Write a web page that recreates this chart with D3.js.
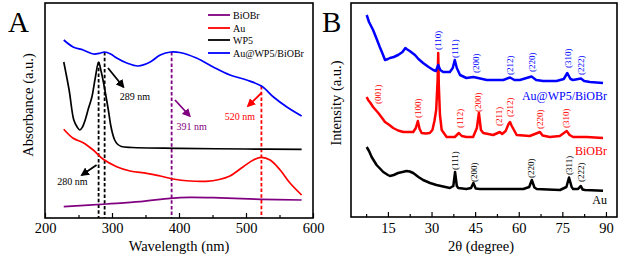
<!DOCTYPE html>
<html lang="en">
<head>
<meta charset="utf-8">
<title>UV-vis and XRD</title>
<script src="https://cdn.jsdelivr.net/npm/d3@7/dist/d3.min.js"></script>
<style>
    body { margin: 0; background: #fff; }
    svg text { font-family: "Liberation Serif", "Times New Roman", serif; fill: #000; }
    .frame { fill: none; stroke: #000; stroke-width: 1.6; }
    .axis path { display: none; }
    .axis line { stroke: #000; stroke-width: 1.2; }
    .axis text { font-family: "Liberation Serif", serif; font-size: 14.5px; }
    .curve { fill: none; }
</style>
</head>
<body>
<svg id="chart" width="621" height="257"></svg>
<script>
// ---- panel A : UV-vis absorbance ----
let compWl  = [228, 242, 257, 272, 283, 289, 298, 307, 322, 339, 357, 372, 388, 401, 426, 451, 476, 501, 523, 541, 561, 583];
let compAbs = [1.78, 1.71, 1.68, 1.64, 1.65, 1.66, 1.64, 1.60, 1.55, 1.52, 1.56, 1.63, 1.66, 1.655, 1.60, 1.51, 1.43, 1.38, 1.32, 1.21, 1.11, 1.02];

let wp5Wl  = [228, 236, 243, 248, 252, 256, 260, 265, 270, 275, 280, 284, 288, 292, 295, 298, 301, 304, 308, 314, 330, 400, 500, 583];
let wp5Abs = [1.56, 1.28, 0.98, 0.91, 0.88, 0.91, 0.98, 1.10, 1.21, 1.40, 1.56, 1.46, 1.33, 1.18, 1.06, 0.93, 0.84, 0.78, 0.74, 0.715, 0.705, 0.697, 0.69, 0.687];

let auWl  = [228, 242, 257, 272, 287, 307, 327, 352, 372, 391, 416, 440, 460, 476, 496, 511, 523, 536, 551, 566, 583];
let auAbs = [0.887, 0.797, 0.753, 0.68, 0.587, 0.513, 0.47, 0.447, 0.42, 0.39, 0.37, 0.367, 0.385, 0.42, 0.513, 0.58, 0.607, 0.58, 0.48, 0.347, 0.23];

let biobrWl  = [228, 292, 342, 387, 416, 451, 523, 583];
let biobrAbs = [0.113, 0.14, 0.163, 0.197, 0.207, 0.203, 0.187, 0.18];

let waveTicks = [200, 300, 400, 500, 600];
let legendNames = ["BiOBr", "Au", "WP5", "Au@WP5/BiOBr"];
let legendColors = ["#800080", "#ff0000", "#000000", "#0000ff"];

// dashed markers (wavelength, top absorbance)
let dashMarks = [
    {wl: 280, top: 1.56, color: "#000000"},
    {wl: 289, top: 1.66, color: "#000000"},
    {wl: 389, top: 1.66, color: "#800080"},
    {wl: 523, top: 1.32, color: "#ff0000"}
];
// arrows with labels (wavelength, absorbance)
let arrowNotes = [
    {label: "289 nm", color: "#000000", from: [294, 1.50], to: [317, 1.31], at: [334, 1.18]},
    {label: "391 nm", color: "#800080", from: [394, 1.18], to: [416, 1.02], at: [419, 0.88]},
    {label: "520 nm", color: "#ff0000", from: [523, 1.25], to: [503, 1.12], at: [491, 0.98]},
    {label: "280 nm", color: "#000000", from: [277, 0.53], to: [255, 0.43], at: [241, 0.33]}
];

// ---- panel B : XRD ----
let compTheta = [7.7, 8.5, 9.9, 11, 12.2, 13.2, 14, 15, 15.7, 17, 18.5, 20, 21, 21.4, 22.5, 24.3, 25.5, 27.1, 29, 30.6, 31.5, 32.3, 33, 34, 36.3, 37.3, 38, 38.7, 39.8, 42, 44.4, 46, 49, 54.7, 57, 58.5, 60.4, 64.4, 66, 68.4, 73, 75.5, 76.7, 77.8, 78.7, 81.4, 82.5, 84.5, 89];
let compInt   = [202, 195, 187, 179, 170, 163, 157, 158, 159, 160, 162, 165, 169, 168, 166, 162, 158, 154, 150, 147, 146, 152, 147, 145, 145, 149, 157, 149, 142, 139, 140, 139, 137, 137, 139.5, 137, 137, 140.5, 137, 136, 136, 138, 144, 138, 137, 138.5, 136, 135, 134];

let biobrTheta = [7.7, 8.2, 9, 9.9, 11.7, 13, 14, 15.5, 16.8, 18.5, 20.3, 22, 23.7, 24.6, 25.3, 25.9, 26.6, 28, 29.4, 30.3, 31, 31.6, 32.1, 32.3, 32.5, 32.9, 33.5, 35.2, 38, 39.4, 40.4, 42, 44.3, 45.6, 46.3, 47, 47.8, 51.2, 53.5, 54.3, 55.5, 56.5, 57, 57.6, 59.3, 63.8, 67.3, 68.2, 70.7, 74.1, 76.5, 77.5, 78.7, 83.4, 89];
let biobrInt   = [120, 117, 114, 110, 104, 99, 95, 92, 89, 86.5, 85, 85, 85, 89, 96, 88, 84, 83.5, 84, 87, 96, 107, 137, 164, 132, 102, 87, 80, 80, 84, 81, 80, 80, 89, 104, 87, 84, 82, 85, 83, 86, 93, 95, 91, 82, 81, 85, 81.5, 80, 81, 86, 82, 80, 80, 79];

let auTheta = [7.7, 8.5, 9.4, 11.1, 13.4, 15, 15.7, 17, 18.5, 20, 21.4, 22.5, 23.7, 25.5, 27.1, 29.5, 31.7, 34, 36.3, 37.5, 38.1, 38.7, 39.2, 42, 43.6, 44.4, 45.2, 46.6, 50, 54.7, 61.6, 63.6, 64.5, 65.4, 66.2, 70, 74.2, 76.4, 77.3, 78.2, 78.7, 80.4, 81.3, 82, 82.8, 85, 89];
let auInt   = [70, 66, 60, 52, 45, 42, 41, 42, 44, 45, 46, 45.5, 44, 40, 37, 34, 32, 30.5, 29, 31, 45, 31, 29, 28, 29, 34, 28.5, 28, 28, 28, 28, 30, 37, 29.5, 28, 27.5, 27, 30, 39.5, 30, 28, 28, 31, 27.5, 27, 26.7, 26.3];

let thetaTicks = [15, 30, 45, 60, 75, 90];

// peak labels: hkl, theta, intensity at bottom of label
let compPeaks = [["(110)", 32.3, 167], ["(111)", 38, 159], ["(200)", 45.2, 144], ["(212)", 57, 142], ["(220)", 64.4, 145], ["(310)", 77, 149], ["(222)", 81.3, 142]];
let biobrPeaks = [["(001)", 11.5, 113], ["(100)", 25.2, 99], ["(112)", 39.8, 89], ["(200)", 46, 105], ["(211)", 53.3, 91], ["(212)", 57, 100], ["(220)", 67.3, 88], ["(310)", 76.2, 89]];
let auPeaks = [["(111)", 38, 47], ["(200)", 44.4, 35], ["(220)", 64.2, 39], ["(311)", 77.2, 42], ["(222)", 81.3, 35]];

let svg = d3.select("#chart");

function zip(xs, ys) { return xs.map((x, i) => [x, ys[i]]); }

// arrow heads
let defs = svg.append("defs");
["#000000", "#800080", "#ff0000"].forEach((c, i) => {
    defs.append("marker")
        .attr("id", "arr" + i)
        .attr("viewBox", "0 0 10 10")
        .attr("refX", 8).attr("refY", 5)
        .attr("markerWidth", 4.8).attr("markerHeight", 4.8)
        .attr("orient", "auto")
        .append("path")
        .attr("d", "M0,0L10,5L0,10Z")
        .attr("fill", c);
});
let markerFor = {"#000000": "url(#arr0)", "#800080": "url(#arr1)", "#ff0000": "url(#arr2)"};

// ===== Panel A =====
let ax = d3.scaleLinear().domain([200, 600]).range([45, 313]);
let ay = d3.scaleLinear().domain([0, 2.15]).range([218, 3]);

let gA = svg.append("g");

gA.append("g").attr("class", "axis")
    .attr("transform", "translate(0,218)")
    .call(d3.axisBottom(ax).tickValues([250, 350, 450, 550]).tickSize(-3).tickFormat(""));
gA.append("g").attr("class", "axis")
    .attr("transform", "translate(0,218)")
    .call(d3.axisBottom(ax).tickValues(waveTicks).tickSize(-5).tickPadding(5).tickFormat(d3.format("d")));

// dashed markers
gA.selectAll(".dash").data(dashMarks).enter().append("line")
    .attr("x1", d => ax(d.wl)).attr("x2", d => ax(d.wl))
    .attr("y1", d => ay(d.top)).attr("y2", ay(0))
    .attr("stroke", d => d.color)
    .attr("stroke-width", 1.8)
    .attr("stroke-dasharray", "3.5,2.2");

let uvLine = d3.line().x(d => ax(d[0])).y(d => ay(d[1])).curve(d3.curveCatmullRom.alpha(0.5));
let uvSeries = [
    {pts: zip(biobrWl, biobrAbs), color: "#800080"},
    {pts: zip(auWl, auAbs), color: "#ff0000"},
    {pts: zip(wp5Wl, wp5Abs), color: "#000000"},
    {pts: zip(compWl, compAbs), color: "#0000ff"}
];
gA.selectAll(".uv").data(uvSeries).enter().append("path")
    .attr("class", "curve")
    .attr("d", d => uvLine(d.pts))
    .attr("stroke", d => d.color)
    .attr("stroke-width", 1.7);

// arrows
gA.selectAll(".arrow").data(arrowNotes).enter().append("line")
    .attr("x1", d => ax(d.from[0])).attr("y1", d => ay(d.from[1]))
    .attr("x2", d => ax(d.to[0])).attr("y2", d => ay(d.to[1]))
    .attr("stroke", d => d.color)
    .attr("stroke-width", 1.8)
    .attr("marker-end", d => markerFor[d.color]);
gA.selectAll(".note").data(arrowNotes).enter().append("text")
    .attr("x", d => ax(d.at[0])).attr("y", d => ay(d.at[1]))
    .attr("text-anchor", "middle")
    .style("font-size", "10px")
    .style("fill", d => d.color)
    .text(d => d.label);

// legend
let leg = gA.selectAll(".leg").data(legendNames).enter().append("g")
    .attr("transform", (d, i) => "translate(208," + [15, 28, 40, 53][i] + ")");
leg.append("line").attr("x1", 0).attr("x2", 22)
    .attr("stroke", (d, i) => legendColors[i]).attr("stroke-width", 1.8);
leg.append("text").attr("x", 25).attr("y", 3.5)
    .style("font-size", "10px").text(d => d);

gA.append("rect").attr("class", "frame").attr("x", 45).attr("y", 3).attr("width", 268).attr("height", 215);

gA.append("text").attr("x", 179).attr("y", 251).attr("text-anchor", "middle")
    .style("font-size", "14.5px").text("Wavelength (nm)");
gA.append("text").attr("transform", "translate(33,105) rotate(-90)").attr("text-anchor", "middle")
    .style("font-size", "14.5px").text("Absorbance (a.u.)");
gA.append("text").attr("x", 8).attr("y", 32).style("font-size", "29px").text("A");

// ===== Panel B =====
let bx = d3.scaleLinear().domain([2.3, 93.8]).range([351, 617]);
let by = d3.scaleLinear().domain([0, 214]).range([217, 3]);

let gB = svg.append("g");

gB.append("g").attr("class", "axis")
    .attr("transform", "translate(0,217)")
    .call(d3.axisBottom(bx).tickValues([7.5, 22.5, 37.5, 52.5, 67.5, 82.5]).tickSize(-3).tickFormat(""));
gB.append("g").attr("class", "axis")
    .attr("transform", "translate(0,217)")
    .call(d3.axisBottom(bx).tickValues(thetaTicks).tickSize(-5).tickPadding(6).tickFormat(d3.format("d")));

let xrdLine = d3.line().x(d => bx(d[0])).y(d => by(d[1]));
let xrdSeries = [
    {pts: zip(auTheta, auInt), color: "#000000", peaks: auPeaks},
    {pts: zip(biobrTheta, biobrInt), color: "#ff0000", peaks: biobrPeaks},
    {pts: zip(compTheta, compInt), color: "#0000ff", peaks: compPeaks}
];
gB.selectAll(".xrd").data(xrdSeries).enter().append("path")
    .attr("class", "curve")
    .attr("d", d => xrdLine(d.pts))
    .attr("stroke", d => d.color)
    .attr("stroke-width", 2.5)
    .attr("stroke-linejoin", "round");

xrdSeries.forEach(s => {
    gB.selectAll(null).data(s.peaks).enter().append("text")
        .attr("transform", d => "translate(" + bx(d[1]) + "," + by(d[2]) + ") rotate(-90)")
        .attr("dy", "0.35em")
        .style("font-size", "9px")
        .style("fill", s.color)
        .text(d => d[0]);
});

let xrdNames = [["Au@WP5/BiOBr", 117, "#0000ff"], ["BiOBr", 62, "#ff0000"], ["Au", 13, "#000000"]];
gB.selectAll(".xname").data(xrdNames).enter().append("text")
    .attr("x", 607).attr("y", d => by(d[1]))
    .attr("text-anchor", "end")
    .style("font-size", "12px")
    .style("fill", d => d[2])
    .text(d => d[0]);

gB.append("rect").attr("class", "frame").attr("x", 351).attr("y", 3).attr("width", 266).attr("height", 214);

gB.append("text").attr("x", 481).attr("y", 251).attr("text-anchor", "middle")
    .style("font-size", "14.5px").text("2θ (degree)");
gB.append("text").attr("transform", "translate(341,103) rotate(-90)").attr("text-anchor", "middle")
    .style("font-size", "14.5px").text("Intensity (a.u.)");
gB.append("text").attr("x", 322).attr("y", 32).style("font-size", "29px").text("B");
</script>
</body>
</html>
